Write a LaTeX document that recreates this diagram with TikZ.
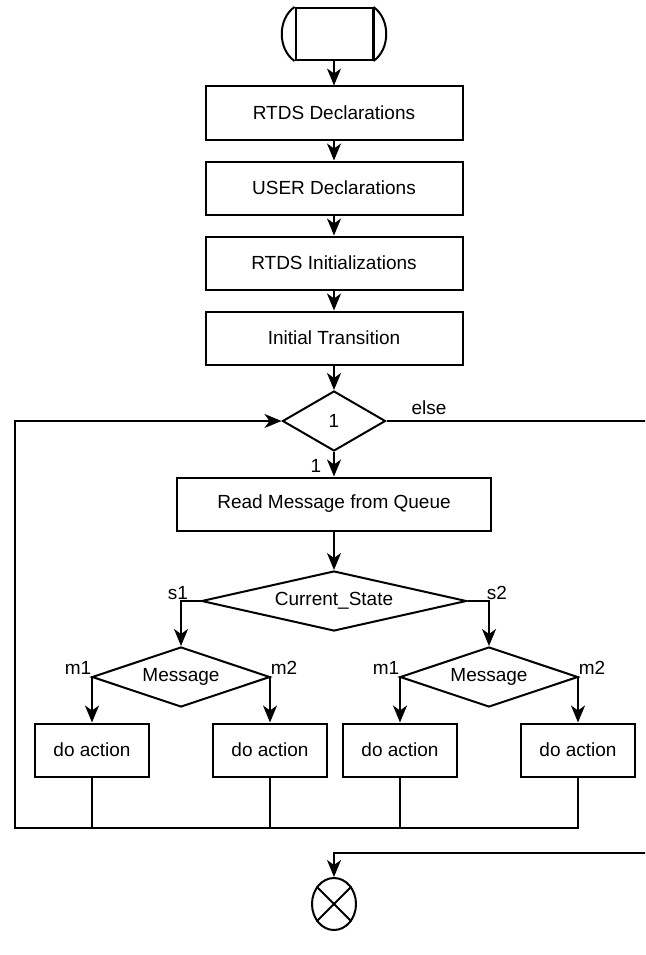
\documentclass[tikz,border=0pt]{standalone}
\usepackage{fontspec}
\setmainfont{Liberation Sans}
\usetikzlibrary{arrows.meta,shapes.geometric}
\begin{document}
\begin{tikzpicture}[x=1pt,y=-1pt,
  every node/.style={font=\fontsize{19}{22}\selectfont},
  lw/.style={line width=2pt},
  proc/.style={draw, lw, minimum width=257pt, minimum height=53pt, inner sep=0pt},
  act/.style={proc, minimum width=114pt},
  dec/.style={draw, diamond, lw, inner sep=0pt},
  arr/.style={lw, -{Stealth[length=17pt,width=14pt,inset=5pt]}},
  wire/.style={line width=1.6pt},
  lbl/.style={inner sep=0pt}]
\clip (0,0) rectangle (645,955);
\fill[white] (0,0) rectangle (645,955);

% start terminator
\node[draw, lw, minimum width=77pt, minimum height=52pt, inner sep=0pt] (start) at (334,34) {};
\draw[lw] (start.north west) .. controls +(-17,12) and +(-17,-12) .. (start.south west);
\draw[lw] (start.north east) .. controls +(17,12) and +(17,-12) .. (start.south east);
\draw[line width=3.2pt] (start.north east) -- (start.south east);

% initialisation sequence
\node[proc] (rtdsdecl) at (334,113) {RTDS Declarations};
\node[proc] (userdecl) at (334,188) {USER Declarations};
\node[proc] (rtdsinit) at (334,263) {RTDS Initializations};
\node[proc] (inittr)   at (334,338) {Initial Transition};

\draw[arr] (start) -- (rtdsdecl);
\draw[arr] (rtdsdecl) -- (userdecl);
\draw[arr] (userdecl) -- (rtdsinit);
\draw[arr] (rtdsinit) -- (inittr);

% main loop decision
\node[dec, minimum width=103pt, minimum height=60pt, aspect=1.7] (loop) at (334,421) {1};
\draw[arr] (inittr) -- (loop);

\node[proc, minimum width=314pt] (readq) at (334,504) {Read Message from Queue};
\draw[arr] (loop.south) -- (readq.north);
\node[lbl] at (316,466) {1};

% state decision
\node[dec, minimum width=265pt, minimum height=60pt, aspect=4.4] (state) at (334,601) {Current\_State};
\draw[arr] (readq) -- (state);

\node[dec, minimum width=178pt, minimum height=60pt, aspect=3] (msga) at (181,677) {Message};
\node[dec, minimum width=178pt, minimum height=60pt, aspect=3] (msgb) at (489,677) {Message};

\draw[arr] (state.west) -| (msga.north);
\draw[arr] (state.east) -| (msgb.north);
\node[lbl] at (178,593) {s1};
\node[lbl] at (497,593) {s2};

% actions
\node[act] (act1) at (92,750)  {do action};
\node[act] (act2) at (270,750) {do action};
\node[act] (act3) at (400,750) {do action};
\node[act] (act4) at (578,750) {do action};

\draw[arr] (msga.west) -| (act1.north);
\draw[arr] (msga.east) -| (act2.north);
\draw[arr] (msgb.west) -| (act3.north);
\draw[arr] (msgb.east) -| (act4.north);
\node[lbl] at (78,668)  {m1};
\node[lbl] at (284,668) {m2};
\node[lbl] at (386,668) {m1};
\node[lbl] at (592,668) {m2};

% loop back
\coordinate (lb) at (15,828);
\coordinate (lt) at (15,421);
\draw[wire] (act1.south) -- (act1.south |- lb);
\draw[wire] (act2.south) -- (act2.south |- lb);
\draw[wire] (act3.south) -- (act3.south |- lb);
\draw[arr] (act4.south) -- (act4.south |- lb) -- (lb) -- (lt) -- (loop.west);

% exit branch
\node[draw, ellipse, lw, minimum width=44pt, minimum height=52pt, inner sep=0pt] (stop) at (334,904) {};
\draw[lw] (stop.135) -- (stop.-45);
\draw[lw] (stop.45) -- (stop.-135);
\coordinate (ra) at (648,421);
\coordinate (rb) at (648,853);
\draw[arr] (loop.east) -- (ra) -- (rb) -- (rb -| stop) -- (stop.north);
\node[lbl] at (429,408) {else};
\end{tikzpicture}
\end{document}
